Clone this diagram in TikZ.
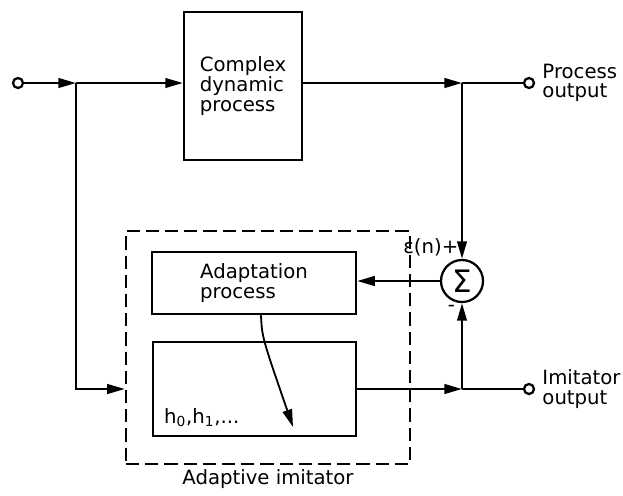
\documentclass[tikz,border=0pt]{standalone}
\usepackage{fontspec}
\setmainfont{DejaVu Sans}
\usetikzlibrary{arrows.meta}

\begin{document}
\begin{tikzpicture}[x=0.025cm,y=-0.025cm,line width=1.6pt,
    >={Triangle[length=4.4mm,width=2.4mm]},
    every node/.style={font=\fontsize{14}{14}\selectfont},
    blockbox/.style={draw,rectangle,inner sep=0pt},
    port/.style={draw,circle,minimum size=0.25cm,inner sep=0pt},
    sumnode/.style={draw,circle,minimum size=1.05cm,inner sep=0pt}]
    \useasboundingbox (0,0) rectangle (623,495);
    % blocks
    \node[port] (in) at (18,83) {};
    \node[blockbox,minimum width=2.95cm,minimum height=3.7cm,align=left] (proc) at (243,86) {Complex\\dynamic\\process};
    \node[port] (pout) at (529,83) {};
    \node[port] (iout) at (529,389) {};
    \node[sumnode] (sum) at (462,281) {\fontsize{22}{22}\selectfont Σ};
    \node[blockbox,minimum width=5.1cm,minimum height=1.55cm,align=left] (adapt) at (254,283) {Adaptation\\process};
    \node[blockbox,minimum width=5.08cm,minimum height=2.35cm] (filt) at (254.5,389) {};
    \node[anchor=base west,inner sep=0pt] (coef) at (163,423) {h\textsubscript{0},h\textsubscript{1},...};
    \node[blockbox,dash pattern=on 0.33cm off 0.15cm,minimum width=7.1cm,minimum height=5.825cm] (imit) at (268,347.5) {};
    \node[anchor=north,inner sep=2pt] (imitlab) at (imit.south) {Adaptive imitator};
    % junctions
    \coordinate (j1) at (76,83);
    \coordinate (j2) at (462,83);
    \coordinate (j3) at (462,389);
    \coordinate (tip) at (293,427);
    % labels
    \node[anchor=west,align=left,inner sep=1pt] (plab) at ([xshift=0.12cm]pout.east) {Process\\output};
    \node[anchor=west,align=left,inner sep=1pt] (ilab) at ([xshift=0.12cm]iout.east) {Imitator\\output};
    \node[anchor=south east,inner sep=1pt] (errlab) at ([xshift=-0.03cm]sum.north) {ε(n)+};
    \node[anchor=north east,inner sep=0pt] (minus) at ([xshift=-0.15cm,yshift=-0.03cm]sum.south) {-};
    % connections
    \draw[->] (in) -- (j1);
    \draw[->] (j1) -- (j1 -| proc.west);
    \draw[->] (j1 -| proc.east) -- (j2);
    \draw (j2) -- (pout);
    \draw[->] (j2) -- (sum.north);
    \draw[->] (sum.west) -- (sum -| adapt.east);
    \draw[->] (j1) |- (imit.west |- filt);
    \draw[->] (filt.east) -- (j3);
    \draw (j3) -- (iout);
    \draw[->] (j3) -- (sum.south);
    \draw[->,line width=1.3pt] ([xshift=0.175cm]adapt.south) .. controls +(1,22) .. (tip);
\end{tikzpicture}
\end{document}
